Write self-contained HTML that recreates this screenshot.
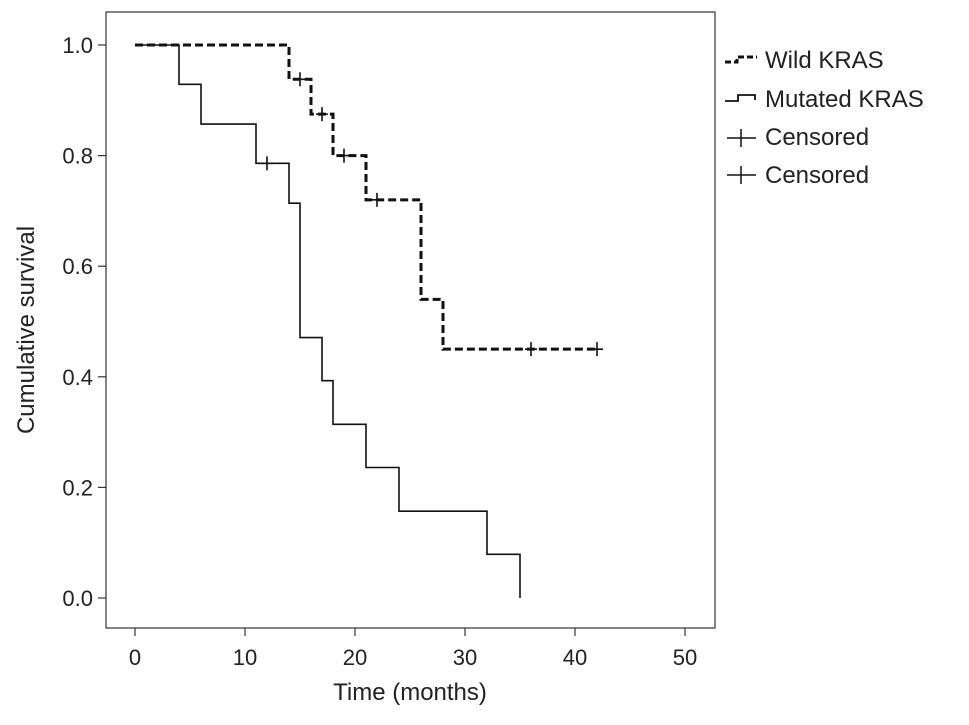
<!DOCTYPE html>
<html><head><meta charset="utf-8"><style>
body{margin:0;background:#fff;font-family:"Liberation Sans",sans-serif;}
svg text{font-family:"Liberation Sans",sans-serif;fill:#222;}
</style></head><body>
<svg id="chart" width="969" height="720" xmlns="http://www.w3.org/2000/svg">
<rect x="106" y="12" width="609" height="616" fill="none" stroke="#333" stroke-width="1.2"/>
<g id="axes"></g>
<g id="series"></g>
<text x="410" y="700" font-size="24" text-anchor="middle">Time (months)</text>
<text transform="translate(34,330) rotate(-90)" font-size="24" text-anchor="middle">Cumulative survival</text>
<g>
<g><path d="M725 62 H737 V57 H757" fill="none" stroke="#111" stroke-width="3" stroke-dasharray="6,3"/><text x="765" y="68" font-size="24">Wild KRAS</text></g>
<g><path d="M725 101 H738 V95 H755 V100" fill="none" stroke="#111" stroke-width="1.8"/><text x="765" y="107" font-size="24">Mutated KRAS</text></g>
<g><path d="M727 138 H756 M741 129 V147" stroke="#111" stroke-width="1.5"/><text x="765" y="145" font-size="24">Censored</text></g>
<g><path d="M727 175 H756 M741 166 V184" stroke="#111" stroke-width="1.5"/><text x="765" y="183" font-size="24">Censored</text></g>
</g>
</svg>
<script>
const xTicks=[0,10,20,30,40,50];
const yTicks=[0.0,0.2,0.4,0.6,0.8,1.0];
const wildTimes=[0,14,16,18,21,26,28];
const wildSurv=[1.0,0.938,0.875,0.8,0.72,0.54,0.45];
const wildEnd=42;
const wildCensT=[15,17,19,22,36,42];
const wildCensS=[0.938,0.875,0.8,0.72,0.45,0.45];
const mutTimes=[0,4,6,11,14,15,17,18,21,24,32,35];
const mutSurv=[1.0,0.929,0.857,0.786,0.714,0.471,0.393,0.314,0.236,0.157,0.079,0.0];
const mutEnd=35;
const mutCensT=[12];
const mutCensS=[0.786];
const NS='http://www.w3.org/2000/svg';
const X=t=>135+t*11, Y=s=>598-s*553;
const axes=document.getElementById('axes'), ser=document.getElementById('series');
function mk(tag,attrs,parent){const e=document.createElementNS(NS,tag);for(const k in attrs)e.setAttribute(k,attrs[k]);parent.appendChild(e);return e;}
xTicks.forEach(v=>{
 const l=mk('line',{x1:X(v),x2:X(v),y1:628,y2:636,stroke:'#333','stroke-width':1.2},axes);
 
 
 const t=mk('text',{x:X(v),y:665,'font-size':22,'text-anchor':'middle'},axes);t.textContent=v;
 
 
});
yTicks.forEach(v=>{
 const l=mk('line',{x1:98,x2:106,y1:Y(v),y2:Y(v),stroke:'#333','stroke-width':1.2},axes);
 
 
 const t=mk('text',{x:93,y:Y(v)+8,'font-size':22,'text-anchor':'end'},axes);t.textContent=v.toFixed(1);
 
 
});
function stepPath(ts,ss,end){let d='M'+X(ts[0])+' '+Y(ss[0]);for(let i=1;i<ts.length;i++){d+=' H'+X(ts[i])+' V'+Y(ss[i]);}d+=' H'+X(end);return d;}
const w=mk('path',{d:stepPath(wildTimes,wildSurv,wildEnd),fill:'none',stroke:'#111','stroke-width':3,'stroke-dasharray':'8,4'},ser);


const m=mk('path',{d:stepPath(mutTimes,mutSurv,mutEnd),fill:'none',stroke:'#111','stroke-width':1.6},ser);


function cens(ts,ss,name){ts.forEach((t,i)=>{const p=mk('path',{d:`M${X(t)-6} ${Y(ss[i])} H${X(t)+6} M${X(t)} ${Y(ss[i])-7} V${Y(ss[i])+7}`,stroke:'#111','stroke-width':1.6},ser);
 
 });}
cens(wildCensT,wildCensS,'wild-censored-mark');
cens(mutCensT,mutCensS,'mutated-censored-mark');
</script>
</body></html>
